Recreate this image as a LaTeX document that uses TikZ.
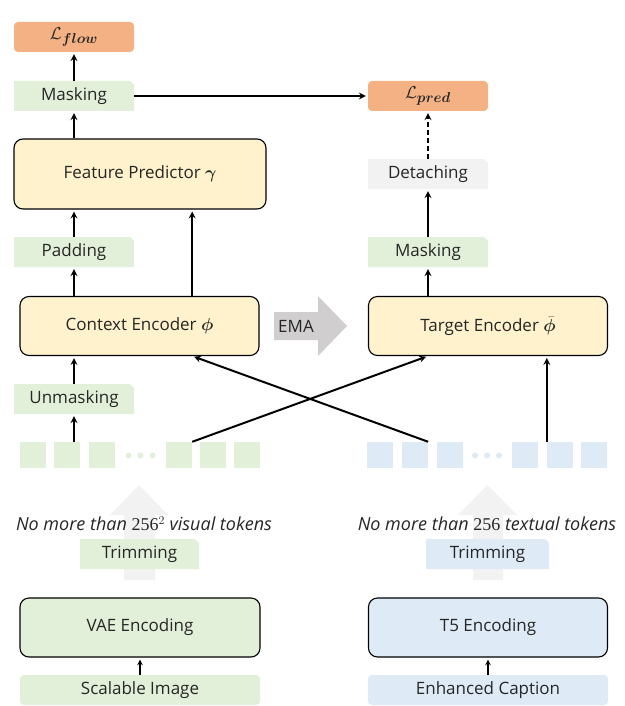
\documentclass[tikz,border=0pt]{standalone}
\usepackage{fontspec}
\setmainfont{Open Sans}
\newfontfamily\numfont{Liberation Serif}
\usepackage{amsmath}
\usepackage{bm}
\usetikzlibrary{positioning}

\definecolor{lossorange}{HTML}{F4B183}
\definecolor{encyellow}{HTML}{FFF2CC}
\definecolor{tokgreen}{HTML}{E2F0D9}
\definecolor{tokblue}{HTML}{DEEBF7}
\definecolor{detgray}{HTML}{F2F2F2}
\definecolor{emagray}{HTML}{D0CECE}
\definecolor{bgarrow}{HTML}{F2F2F2}

\begin{document}
\begin{tikzpicture}[x=1pt,y=-1pt,
    font=\fontsize{17}{20}\selectfont, text=black!85,
    arr/.style={-stealth, line width=2pt, shorten >=2pt},
    loss/.style={fill=lossorange, rounded corners=4pt, minimum width=120pt, minimum height=30pt, inner sep=0pt, font=\fontsize{19}{22}\selectfont},
    tag/.style={minimum width=120pt, minimum height=30pt, inner sep=0pt,
      path picture={\fill[#1] (path picture bounding box.south west) -- (path picture bounding box.north west)
        -- ([xshift=-4pt]path picture bounding box.north east) -- ([yshift=-4pt]path picture bounding box.north east)
        -- (path picture bounding box.south east) -- cycle;}},
    enc/.style={draw=black, line width=1.1pt, fill=encyellow, rounded corners=9pt, minimum width=239pt, minimum height=59pt, inner sep=0pt},
    src/.style={rounded corners=4pt, minimum width=240pt, minimum height=30pt, inner sep=0pt},
    tok/.style={minimum width=26pt, minimum height=26pt, inner sep=0pt},
    limit/.style={font=\fontsize{18}{21}\selectfont\itshape}]
  \useasboundingbox (0,0) rectangle (624,706);

  % left branch
  \node[loss] (lflow) at (74,37) {$\mathcal{L}_{\bm{flow}}$};
  \node[tag=tokgreen] (maskc) at (74,96) {Masking};
  \node[enc, minimum width=252pt, minimum height=70pt] (pred) at (140,174) {Feature Predictor $\bm{\gamma}$};
  \node[tag=tokgreen] (pad) at (74,252) {Padding};
  \node[enc] (ctx) at (139.5,326) {Context Encoder $\bm{\phi}$};
  \node[tag=tokgreen] (unmask) at (74,399) {Unmasking};

  % right branch
  \node[loss] (lpred) at (428,96) {$\mathcal{L}_{\bm{pred}}$};
  \node[tag=detgray] (detach) at (428,174) {Detaching};
  \node[tag=tokgreen] (maskt) at (428,252) {Masking};
  \node[enc] (tgt) at (488,326) {Target Encoder $\bar{\bm{\phi}}$};

  % EMA
  \fill[emagray] (274,312) -- (318,312) -- (318,296) -- (347,326) -- (318,356) -- (318,340) -- (274,340) -- cycle;
  \node (ema) at (296,326) {EMA};

  % tokens
  \foreach \i/\x in {1/33,2/67,3/102,4/179,5/213,6/247}
    \node[tok, fill=tokgreen] (g\i) at (\x,455) {};
  \foreach \i/\x in {1/380,2/415,3/450,4/525,5/560,6/594}
    \node[tok, fill=tokblue] (b\i) at (\x,455) {};
  \foreach \x in {128.5,140.5,152.5}
    \fill[tokgreen] (\x,455.5) circle (3pt);
  \foreach \x in {475,487,499}
    \fill[tokblue] (\x,455.5) circle (3pt);

  % trimming
  \fill[bgarrow] (124,580) -- (124,515) -- (110,515) -- (139,485) -- (168,515) -- (155,515) -- (155,580) -- cycle;
  \fill[bgarrow] (473,580) -- (473,515) -- (458,515) -- (487.5,485) -- (517,515) -- (503,515) -- (503,580) -- cycle;
  \node[limit] (limv) at (144,524) {No more than {\upshape\numfont 256}$^{2}$ visual tokens};
  \node[limit] (limt) at (487,524) {No more than {\upshape\numfont 256} textual tokens};
  \node[tag=tokgreen, minimum width=119pt] (trimv) at (139.5,554) {Trimming};
  \node[tag=tokblue, minimum width=123pt] (trimt) at (487.5,554) {Trimming};

  % sources
  \node[enc, fill=tokgreen, minimum width=240pt] (vae) at (140,627.5) {VAE Encoding};
  \node[enc, fill=tokblue] (t5) at (488,627.5) {T5 Encoding};
  \node[src, fill=tokgreen] (img) at (140,690) {Scalable Image};
  \node[src, fill=tokblue] (cap) at (488,690) {Enhanced Caption};

  % arrows
  \draw[arr] (maskc) -- (lflow);
  \draw[arr] (maskc |- pred.north) -- (maskc);
  \draw[arr] (pad) -- (pad |- pred.south);
  \draw[arr] (g4.north east |- ctx.north) -- (g4.north east |- pred.south);
  \draw[arr] (pad |- ctx.north) -- (pad);
  \draw[arr] (unmask) -- (unmask |- ctx.south);
  \draw[arr] (unmask |- g2.north) -- (unmask);
  \draw[arr] (maskc) -- (lpred);
  \draw[arr, dash pattern=on 5pt off 3pt] (detach) -- (lpred);
  \draw[arr] (maskt) -- (detach);
  \draw[arr] (maskt |- tgt.north) -- (maskt);
  \draw[arr] (g4.north east) -- (tgt.south -| maskt);
  \draw[arr] (b2.north east) -- (ctx.south -| g4.north east);
  \draw[arr] (b5.north west) -- (b5.north west |- tgt.south);
  \draw[arr, line width=1.5pt] (img) -- (vae);
  \draw[arr, line width=1.5pt] (cap) -- (t5);
\end{tikzpicture}
\end{document}
